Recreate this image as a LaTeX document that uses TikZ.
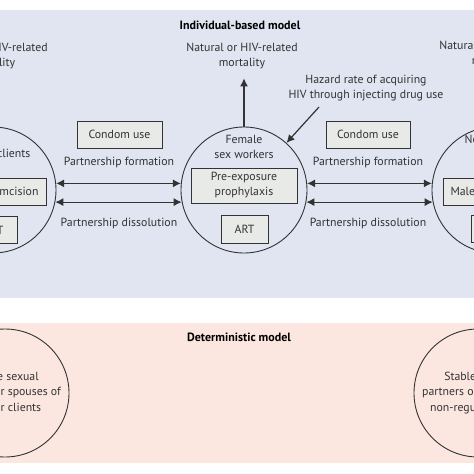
\documentclass[tikz,border=0pt]{standalone}
\usepackage{fontspec}
\setmainfont{PT Sans}
\usetikzlibrary{arrows.meta}
\definecolor{bgblue}{HTML}{E1E4F1}
\definecolor{bgpink}{HTML}{FCE7E0}
\definecolor{boxfill}{HTML}{E8EAE8}
\definecolor{ink}{HTML}{333333}
\begin{document}
\begin{tikzpicture}[x=1pt,y=-1pt,
  pop/.style={circle, draw=ink, line width=0.9pt, minimum size=126pt, inner sep=0pt},
  ibox/.style={draw=ink, fill=boxfill, line width=1pt, inner sep=0pt, align=center, text=ink, font=\fontsize{11.8}{15}\selectfont},
  lbl/.style={text=ink, align=center, font=\fontsize{11.8}{15.5}\selectfont, inner sep=0pt},
  ttl/.style={text=black, font=\bfseries\fontsize{12}{14}\selectfont, inner sep=0pt},
  conn/.style={draw=ink, line width=1.2pt, {Latex[length=8pt,width=8pt]}-{Latex[length=8pt,width=8pt]}},
  onearrow/.style={draw=ink, line width=1.2pt, -{Latex[length=8pt,width=8pt]}}
]
\useasboundingbox (0,0) rectangle (474,474);
\clip (0,0) rectangle (474,474);
\fill[bgblue] (0,10) rectangle (474,298);
\fill[bgpink] (0,323) rectangle (474,463);

% titles
\node[ttl] (t1) at (240,25) {Individual-based model};
\node[ttl] (t2) at (239,337) {Deterministic model};

% population circles (individual-based)
\node[pop] (lc) at (-7,190) {};
\node[pop] (fsw) at (244,190) {};
\node[pop] (rc) at (495,190) {};

% circle labels
\node[lbl] (lct) at (-7,155) {Regular clients};
\node[lbl] (fswt) at (244,147) {Female\\sex workers};
\node[lbl] (rct) at (495,147) {Non-regular\\clients};

% boxes in circles
\node[ibox, minimum width=106pt, minimum height=27pt] (lmc) at (-7,191.5) {Male circumcision};
\node[ibox, minimum width=47pt, minimum height=27pt] (lart) at (-6.5,230) {ART};
\node[ibox, minimum width=106pt, minimum height=35pt] (prep) at (244,185.5) {Pre-exposure\\prophylaxis};
\node[ibox, minimum width=47pt, minimum height=28pt] (fart) at (244.5,229) {ART};
\node[ibox, minimum width=106pt, minimum height=27pt] (rmc) at (496,191.5) {Male circumcision};
\node[ibox, minimum width=47pt, minimum height=27pt] (rart) at (494.5,229) {ART};

% condom use boxes
\node[ibox, minimum width=85pt, minimum height=27pt] (cl) at (119.5,134.5) {Condom use};
\node[ibox, minimum width=84pt, minimum height=27pt] (cr) at (368,134.5) {Condom use};

% partnership labels
\node[lbl] (pfl) at (119,163) {Partnership formation};
\node[lbl] (pdl) at (119,223) {Partnership dissolution};
\node[lbl] (pfr) at (368,163) {Partnership formation};
\node[lbl] (pdr) at (368,223) {Partnership dissolution};

% partnership arrows
\draw[conn] (lc.6) -- (fsw.174);
\draw[conn] (lc.-11) -- (fsw.191);
\draw[conn] (fsw.6) -- (rc.174);
\draw[conn] (fsw.-11) -- (rc.191);

% mortality
\node[lbl] (ml) at (-8,56) {Natural or HIV-related\\mortality};
\node[lbl] (mf) at (242,56) {Natural or HIV-related\\mortality};
\node[lbl] (mr) at (495,54) {Natural or HIV-related\\mortality};
\draw[onearrow, shorten >=9pt] (lc.north) -- (lc.north |- ml.south);
\draw[onearrow, shorten >=9pt] (fsw.north) -- (fsw.north |- mf.south);
\draw[onearrow, shorten >=9pt] (rc.north) -- (rc.north |- mr.south);

% hazard
\node[lbl] (hz) at (366,88) {Hazard rate of acquiring\\HIV through injecting drug use};
\coordinate (hzs) at (319,107);
\draw[onearrow] (hzs) -- (fsw.48);

% deterministic circles
\node[pop, minimum size=128pt] (dl) at (5,393) {};
\node[pop, minimum size=128pt] (dr) at (478,393) {};
\node[lbl] (dlt) at (5,393) {Stable sexual\\partners or spouses of\\regular clients};
\node[lbl] (drt) at (478,393) {Stable sexual\\partners or spouses of\\non-regular clients};
\end{tikzpicture}
\end{document}
